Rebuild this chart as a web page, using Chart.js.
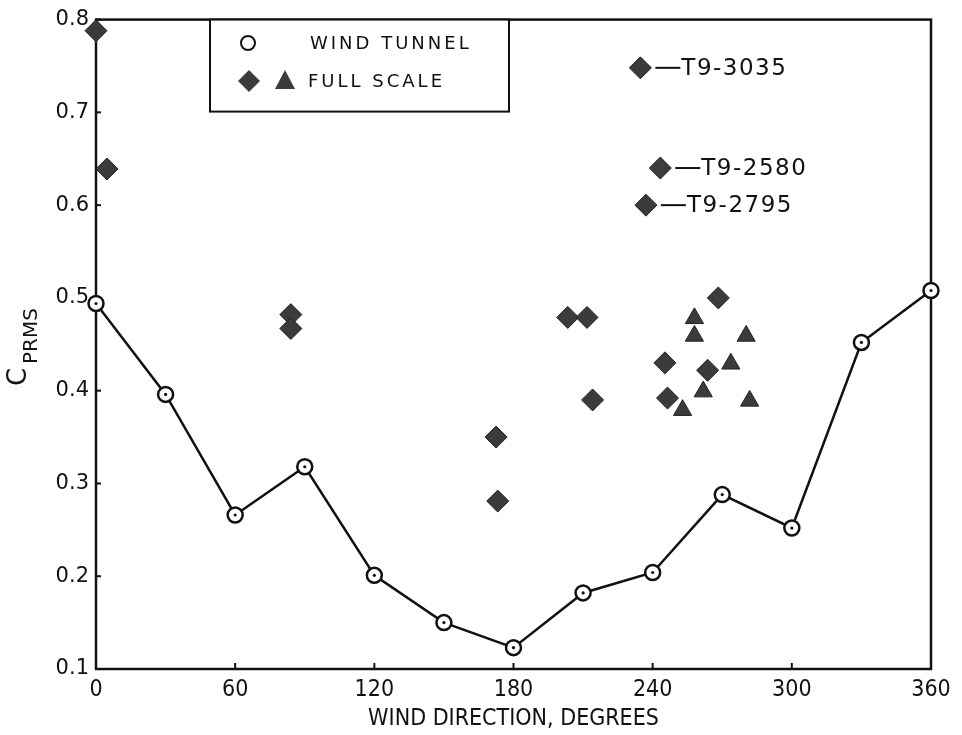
<!DOCTYPE html>
<html>
<head>
<meta charset="utf-8">
<title>C PRMS vs wind direction</title>
<script src="https://cdn.jsdelivr.net/npm/chart.js@4.4.0/dist/chart.umd.min.js"></script>
<style>
  body { margin: 0; background: #fff; }
</style>
</head>
<body>
<canvas id="chart" width="962" height="735"></canvas>
<script>
// wind tunnel (open circles joined by a line)
const windDirection = [0, 30, 60, 90, 120, 150, 180, 210, 240, 270, 300, 330, 360];
const windTunnel = [0.494, 0.396, 0.266, 0.318, 0.201, 0.150, 0.123, 0.182, 0.204, 0.288, 0.252, 0.452, 0.508];

// full scale, diamonds
const diamondX = [0, 4.7, 84, 84, 172.5, 173.2, 203.4, 211.7, 214.1, 245.3, 246.4, 263.7, 268.3];
const diamondY = [0.788, 0.639, 0.482, 0.467, 0.350, 0.281, 0.479, 0.479, 0.390, 0.430, 0.392, 0.422, 0.500];

// full scale, triangles
const triangleX = [258, 258, 280.3, 273.7, 261.8, 252.9, 281.8];
const triangleY = [0.478, 0.459, 0.459, 0.429, 0.399, 0.379, 0.389];

// labelled full scale runs
const labelledX = [234.7, 243.3, 237.1];
const labelledY = [0.748, 0.640, 0.600];
const labelledNames = ["T9-3035", "T9-2580", "T9-2795"];

const xTicks = [0, 60, 120, 180, 240, 300, 360];
const yTicks = [0.1, 0.2, 0.3, 0.4, 0.5, 0.6, 0.7, 0.8];

const toPoints = (xs, ys) => xs.map((x, i) => ({ x: x, y: ys[i] }));

const ink = "#111";
const markFill = "#3b3b3b";

const framePlugin = {
  id: "frame",
  beforeDatasetsDraw(chart) {
    const { ctx, chartArea, scales } = chart;
    const { left, right, top, bottom } = chartArea;
    ctx.save();
    ctx.strokeStyle = ink;
    ctx.lineWidth = 2.5;
    ctx.strokeRect(left, top, right - left, bottom - top);
    // short inward ticks
    ctx.lineWidth = 2;
    xTicks.forEach((v) => {
      const px = scales.x.getPixelForValue(v);
      ctx.beginPath();
      ctx.moveTo(px, bottom);
      ctx.lineTo(px, bottom - 6);
      ctx.stroke();
    });
    yTicks.forEach((v) => {
      const py = scales.y.getPixelForValue(v);
      ctx.beginPath();
      ctx.moveTo(left, py);
      ctx.lineTo(left + 5, py);
      ctx.stroke();
    });
    ctx.restore();
  },
  afterDraw(chart) {
    const { ctx, chartArea } = chart;
    ctx.save();

    // legend box
    ctx.fillStyle = "#fff";
    ctx.strokeStyle = ink;
    ctx.lineWidth = 2;
    ctx.fillRect(210, chartArea.top, 299, 92);
    ctx.strokeRect(210, chartArea.top, 299, 92);

    ctx.lineWidth = 2;
    ctx.beginPath();
    ctx.arc(248, 43, 7, 0, Math.PI * 2);
    ctx.stroke();

    ctx.fillStyle = markFill;
    ctx.beginPath();
    ctx.moveTo(238, 81); ctx.lineTo(249, 70); ctx.lineTo(260, 81); ctx.lineTo(249, 92);
    ctx.closePath();
    ctx.fill();
    ctx.beginPath();
    ctx.moveTo(285, 70); ctx.lineTo(295, 89); ctx.lineTo(275, 89);
    ctx.closePath();
    ctx.fill();

    ctx.fillStyle = ink;
    ctx.font = "18px 'DejaVu Sans'";
    ctx.textBaseline = "middle";
    ctx.textAlign = "left";
    ctx.letterSpacing = "3px";
    ctx.fillText("WIND TUNNEL", 310, 44);
    ctx.fillText("FULL SCALE", 308, 82);

    // labels beside the named runs
    const meta = chart.getDatasetMeta(3);
    ctx.font = "23px 'DejaVu Sans'";
    ctx.letterSpacing = "1.5px";
    ctx.lineWidth = 2;
    meta.data.forEach((pt, i) => {
      ctx.beginPath();
      ctx.moveTo(pt.x + 15, pt.y);
      ctx.lineTo(pt.x + 40, pt.y);
      ctx.stroke();
      ctx.fillText(labelledNames[i], pt.x + 41, pt.y + 1);
    });
    ctx.letterSpacing = "0px";

    // y-axis title C with subscript PRMS
    ctx.translate(19, 377);
    ctx.rotate(-Math.PI / 2);
    ctx.textAlign = "center";
    ctx.font = "26px 'DejaVu Sans'";
    ctx.fillText("C", 0, 0);
    ctx.textAlign = "left";
    ctx.font = "20px 'DejaVu Sans'";
    ctx.fillText("PRMS", 13, 13);
    ctx.restore();
  },
};

new Chart(document.getElementById("chart"), {
  type: "scatter",
  data: {
    datasets: [
      {
        label: "Wind tunnel centre",
        data: toPoints(windDirection, windTunnel),
        showLine: false,
        order: 0,
        pointRadius: 1.6,
        pointBorderWidth: 0,
        pointBackgroundColor: ink,
        clip: false,
      },
      {
        label: "Wind tunnel",
        data: toPoints(windDirection, windTunnel),
        showLine: true,
        order: 1,
        borderColor: ink,
        borderWidth: 2.5,
        tension: 0,
        pointStyle: "circle",
        pointRadius: 7.5,
        pointBorderWidth: 2.5,
        pointBackgroundColor: "#fff",
        pointBorderColor: ink,
        clip: false,
      },
      {
        label: "Full scale",
        data: toPoints(diamondX, diamondY),
        order: 2,
        pointStyle: "rectRot",
        pointRadius: 11,
        pointBorderWidth: 1,
        pointBackgroundColor: markFill,
        pointBorderColor: "#222",
        clip: false,
      },
      {
        label: "Full scale labelled",
        data: toPoints(labelledX, labelledY),
        order: 2,
        pointStyle: "rectRot",
        pointRadius: 11,
        pointBorderWidth: 1,
        pointBackgroundColor: markFill,
        pointBorderColor: "#222",
        clip: false,
      },
      {
        label: "Full scale triangles",
        data: toPoints(triangleX, triangleY),
        order: 2,
        pointStyle: "triangle",
        pointRadius: 10.5,
        pointBorderWidth: 1,
        pointBackgroundColor: markFill,
        pointBorderColor: "#222",
        clip: false,
      },
    ],
  },
  options: {
    responsive: false,
    animation: false,
    layout: { padding: { top: 16, right: 31, left: 0, bottom: 0 } },
    plugins: { legend: { display: false }, tooltip: { enabled: false } },
    scales: {
      x: {
        type: "linear",
        min: 0,
        max: 360,
        afterBuildTicks: (s) => { s.ticks = xTicks.map((v) => ({ value: v })); },
        afterFit: (s) => { s.height = 66; },
        grid: { display: false, drawTicks: false },
        border: { display: false },
        ticks: {
          color: ink,
          padding: 7,
          maxRotation: 0,
          font: { family: "'DejaVu Sans Condensed'", size: 23 },
        },
        title: {
          display: true,
          text: "WIND DIRECTION, DEGREES",
          color: ink,
          padding: { top: 0, bottom: 2 },
          font: { family: "'DejaVu Sans Condensed'", size: 23 },
        },
      },
      y: {
        type: "linear",
        min: 0.1,
        max: 0.8,
        afterBuildTicks: (s) => { s.ticks = yTicks.map((v) => ({ value: v })); },
        afterFit: (s) => { s.width = 96; },
        grid: { display: false, drawTicks: false },
        border: { display: false },
        ticks: {
          color: ink,
          padding: 7,
          font: { family: "'DejaVu Sans'", size: 21 },
          callback: (v) => v.toFixed(1),
        },
      },
    },
  },
  plugins: [framePlugin],
});
</script>
</body>
</html>
